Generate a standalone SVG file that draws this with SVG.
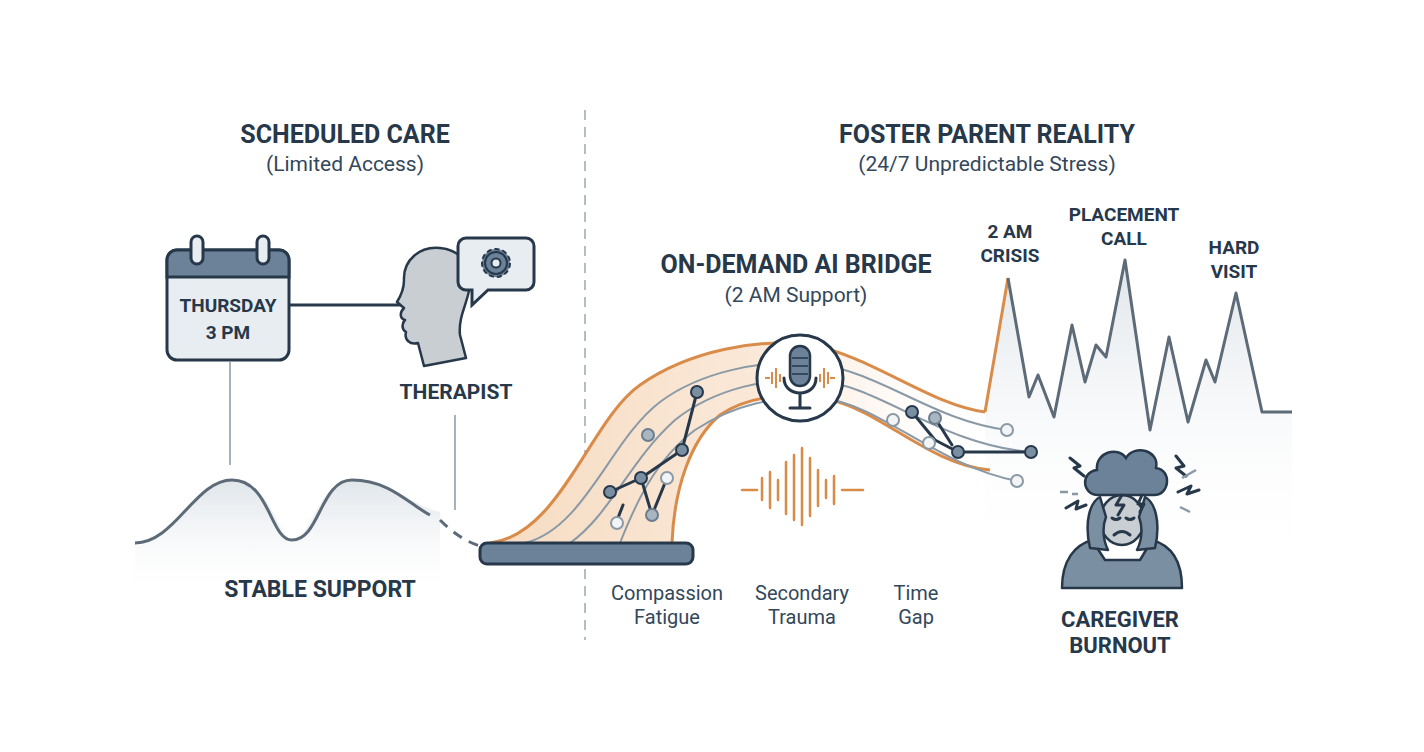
<svg xmlns="http://www.w3.org/2000/svg" width="1424" height="752" viewBox="0 0 1424 752">
<defs>
<style>
.h{font-family:Roboto,"Liberation Sans",sans-serif;font-weight:700;fill:#26384a;text-anchor:middle}
.s{font-family:Roboto,"Liberation Sans",sans-serif;fill:#33475b;text-anchor:middle}
.ln{fill:none;stroke:#26384a;stroke-width:3;stroke-linejoin:round;stroke-linecap:round}
.g{fill:none;stroke:#8a99a6;stroke-width:2}
.o{fill:none;stroke:#d98c4a;stroke-width:3}
.nd{fill:#7b8fa3;stroke:#26384a;stroke-width:2}
.nl{fill:#f2f4f6;stroke:#8a99a6;stroke-width:2}
.nm{fill:#a9b5c0;stroke:#6b7d8e;stroke-width:2}
</style>
<linearGradient id="fade" x1="0" y1="0" x2="0" y2="1"><stop offset="0" stop-color="#dfe5ea"/><stop offset="1" stop-color="#fff" stop-opacity="0"/></linearGradient>
<linearGradient id="or" x1="0" y1="0" x2="1" y2="0"><stop offset="0" stop-color="#f6dcc2"/><stop offset="0.6" stop-color="#fbeadb"/><stop offset="1" stop-color="#fff" stop-opacity="0"/></linearGradient>
</defs>
<rect width="1424" height="752" fill="#fff"/>
<g id="titles">
<text class="h" x="345" y="143" font-size="25">SCHEDULED CARE</text>
<text class="s" x="345" y="171" font-size="21">(Limited Access)</text>
<text class="h" x="987" y="143" font-size="25">FOSTER PARENT REALITY</text>
<text class="s" x="987" y="171" font-size="21">(24/7 Unpredictable Stress)</text>
</g>
<line x1="585" y1="110" x2="585" y2="640" stroke="#b5bcc3" stroke-width="2" stroke-dasharray="10 7"/>
<g id="stable">
<path d="M135,543 C175,543 195,480 232,480 C270,480 280,540 292,540 C310,540 320,480 352,480 C390,480 410,505 440,512 L440,600 L135,600 Z" fill="url(#fade)"/>
<path d="M135,543 C175,543 195,480 232,480 C270,480 270,540 292,540 C320,540 320,480 352,480 C390,480 410,505 430,515" fill="none" stroke="#5d6b78" stroke-width="3"/>
<path d="M440,520 Q460,540 480,546" fill="none" stroke="#5d6b78" stroke-width="3" stroke-dasharray="10 8"/>
<text class="h" x="320" y="597" font-size="23">STABLE SUPPORT</text>
</g>
<g id="connectors">
<line x1="289" y1="305" x2="402" y2="305" class="ln"/>
<line x1="230" y1="362" x2="230" y2="465" stroke="#a9b2ba" stroke-width="2"/>
<line x1="455" y1="415" x2="455" y2="510" stroke="#a9b2ba" stroke-width="2"/>
</g>
<g id="calendar">
<rect x="167" y="250" width="122" height="110" rx="10" fill="#e8edf1" stroke="#26384a" stroke-width="3"/>
<path d="M167,277 V260 a10,10 0 0 1 10,-10 H279 a10,10 0 0 1 10,10 V277 Z" fill="#6b8299" stroke="#26384a" stroke-width="3"/>
<rect x="191" y="236" width="12" height="28" rx="6" fill="#e8edf1" stroke="#26384a" stroke-width="3"/>
<rect x="257" y="236" width="12" height="28" rx="6" fill="#e8edf1" stroke="#26384a" stroke-width="3"/>
<text class="h" x="228" y="312" font-size="19">THURSDAY</text>
<text class="h" x="228" y="339" font-size="19">3 PM</text>
</g>
<g id="therapist">
<path d="M424,366 L418,343 C410,345 404,340 406,332 C401,329 402,323 405,320 C399,318 400,312 404,308 L397,302 C402,294 404,287 404,280 C403,260 420,246 440,248 C460,250 472,264 470,285 C468,303 458,316 460,335 L466,358 Z" fill="#c9ced3" stroke="#26384a" stroke-width="2.5" stroke-linejoin="round"/>
<path d="M466,238 H526 a8,8 0 0 1 8,8 V282 a8,8 0 0 1 -8,8 H488 L472,305 L472,290 H466 a8,8 0 0 1 -8,-8 V246 a8,8 0 0 1 8,-8 Z" fill="#e8edf1" stroke="#26384a" stroke-width="3"/>
<circle cx="496" cy="263" r="14" fill="#6b8299" stroke="#26384a" stroke-width="2" stroke-dasharray="5 3"/>
<circle cx="496" cy="263" r="11" fill="#6b8299" stroke="#26384a" stroke-width="2"/>
<circle cx="496" cy="263" r="4.5" fill="#e8edf1" stroke="#26384a" stroke-width="2"/>
<text class="h" x="456" y="399" font-size="21">THERAPIST</text>
</g>
<g id="spikes">
<path d="M985,412 L1008,278 L1029,397 L1038,375 L1054,417 L1072,325 L1085,382 L1096,345 L1106,357 L1125,260 L1150,430 L1169,337 L1188,422 L1206,360 L1215,382 L1236,293 L1262,412 L1292,412 L1292,560 L985,560 Z" fill="url(#fade)"/>
<path d="M985,412 L1008,278" class="o"/>
<path d="M1008,278 L1029,397 L1038,375 L1054,417 L1072,325 L1085,382 L1096,345 L1106,357 L1125,260 L1150,430 L1169,337 L1188,422 L1206,360 L1215,382 L1236,293 L1262,412 L1292,412" fill="none" stroke="#5d6b78" stroke-width="3" stroke-linejoin="round"/>
<text class="h" x="1010" y="238" font-size="19">2 AM</text>
<text class="h" x="1010" y="262" font-size="19">CRISIS</text>
<text class="h" x="1124" y="221" font-size="19">PLACEMENT</text>
<text class="h" x="1124" y="245" font-size="19">CALL</text>
<text class="h" x="1234" y="254" font-size="19">HARD</text>
<text class="h" x="1234" y="278" font-size="19">VISIT</text>
</g>
<g id="bridge">
<path d="M490,543 C560,535 590,420 640,385 C690,350 760,338 810,345 C870,355 930,405 985,412 L990,470 C930,465 880,410 830,400 C790,392 750,395 720,415 C690,440 674,490 672,543 Z" fill="url(#or)"/>
<path d="M490,543 C560,535 590,420 640,385 C690,350 760,338 810,345 C870,355 930,405 985,412" class="o"/>
<path d="M672,543 C674,490 690,440 720,415 C750,395 790,392 830,400 C880,410 930,465 990,470" class="o"/>
<path d="M525,543 C585,528 610,440 660,402 C700,372 760,360 810,363 C880,370 930,420 1007,430" class="g"/>
<path d="M570,543 C610,515 630,460 675,420 C715,388 770,377 815,380 C880,385 940,445 1031,452" class="g"/>
<path d="M620,543 C635,505 655,460 695,430 C735,404 775,396 820,398 C880,403 935,465 1017,481" class="g"/>
<path d="M610,492 L641,478 L682,450 L697,392 M641,478 L652,515 M667,478 L652,515 M616,523 L623,505 M912,412 L935,440 L958,452 L1031,452 M935,418 L952,445" class="ln" stroke-width="2"/>
<circle cx="610" cy="492" r="6" class="nd"/><circle cx="641" cy="478" r="6" class="nd"/><circle cx="682" cy="450" r="6" class="nd"/>
<circle cx="697" cy="392" r="6" class="nd"/><circle cx="648" cy="435" r="6" class="nm"/><circle cx="652" cy="515" r="6" class="nm"/>
<circle cx="617" cy="523" r="6" class="nl"/><circle cx="667" cy="478" r="6" class="nl"/>
<circle cx="912" cy="412" r="6" class="nd"/><circle cx="935" cy="418" r="6" class="nm"/><circle cx="893" cy="420" r="6" class="nl"/>
<circle cx="958" cy="452" r="6" class="nd"/><circle cx="929" cy="443" r="6" class="nl"/><circle cx="1007" cy="430" r="6" class="nl"/>
<circle cx="1031" cy="452" r="6" class="nd"/><circle cx="1017" cy="481" r="6" class="nl"/>
<rect x="480" y="543" width="213" height="21" rx="7" fill="#6b8299" stroke="#26384a" stroke-width="3"/>
<text class="h" x="796" y="273" font-size="25">ON-DEMAND AI BRIDGE</text>
<text class="s" x="796" y="302" font-size="21">(2 AM Support)</text>
</g>
<g id="mic">
<circle cx="800" cy="378" r="43" fill="#fff" stroke="#26384a" stroke-width="3"/>
<rect x="790" y="346" width="20" height="40" rx="10" fill="#6b8299" stroke="#26384a" stroke-width="2.5"/>
<path d="M792,358 H808 M792,366 H808 M792,374 H808" stroke="#26384a" stroke-width="1.5"/>
<path d="M784,378 C784,398 816,398 816,378 M800,394 V408 M790,408 H810" class="ln" stroke-width="2.5"/>
<path d="M765,378 H770 M772,372 V384 M776,368 V388 M780,374 V382 M820,374 V382 M824,368 V388 M828,372 V384 M830,378 H835" stroke="#d98c4a" stroke-width="2"/>
<path d="M742,490 H757 M762,478 V500 M770,472 V508 M778,480 V500 M786,462 V514 M794,455 V520 M802,448 V525 M810,458 V516 M818,470 V506 M826,480 V498 M834,476 V504 M842,490 H863" stroke="#d98c4a" stroke-width="2.5" stroke-linecap="round"/>
</g>
<g id="labels">
<text class="s" x="667" y="600" font-size="20">Compassion</text>
<text class="s" x="667" y="624" font-size="20">Fatigue</text>
<text class="s" x="802" y="600" font-size="20">Secondary</text>
<text class="s" x="802" y="624" font-size="20">Trauma</text>
<text class="s" x="916" y="600" font-size="20">Time</text>
<text class="s" x="916" y="624" font-size="20">Gap</text>
</g>
<g id="burnout">
<path d="M1062,588 C1062,560 1075,545 1092,540 L1105,560 L1140,560 L1152,540 C1170,545 1182,560 1182,588 Z" fill="#7b8fa3" stroke="#26384a" stroke-width="2.5" stroke-linejoin="round"/>
<ellipse cx="1122" cy="520" rx="22" ry="25" fill="#c9ced3" stroke="#26384a" stroke-width="2.5"/>
<path d="M1112,518 q4,3 8,0 M1126,518 q4,3 8,0 M1114,535 q8,-7 16,0" class="ln" stroke-width="2"/>
<path d="M1090,548 C1084,522 1090,502 1100,497 L1106,517 C1102,527 1103,540 1108,550 Z M1155,548 C1161,522 1155,502 1145,497 L1139,517 C1143,527 1142,540 1137,550 Z" fill="#7b8fa3" stroke="#26384a" stroke-width="2.5" stroke-linejoin="round"/>
<path d="M1098,495 C1082,495 1080,472 1097,470 C1095,452 1118,446 1126,458 C1134,444 1160,450 1156,468 C1172,470 1170,495 1154,495 Z" fill="#6b8299" stroke="#26384a" stroke-width="2.5"/>
<path d="M1122,495 L1116,505 L1124,505 L1118,515 M1142,495 L1138,504 L1144,504 L1140,512" class="ln" stroke-width="2"/>
<path d="M1070,458 L1080,466 L1074,468 L1084,476 M1066,508 L1078,501 L1076,509 L1086,505 M1176,456 L1184,466 L1176,468 L1186,476 M1178,492 L1191,486 L1187,494 L1199,490" class="ln" stroke-width="2"/>
<path d="M1060,492 H1068 M1072,494 H1078 M1182,478 L1196,470 M1180,507 L1190,512" stroke="#8a99a6" stroke-width="2.5"/>
<text class="h" x="1120" y="627" font-size="22">CAREGIVER</text>
<text class="h" x="1120" y="653" font-size="22">BURNOUT</text>
</g>
</svg>
